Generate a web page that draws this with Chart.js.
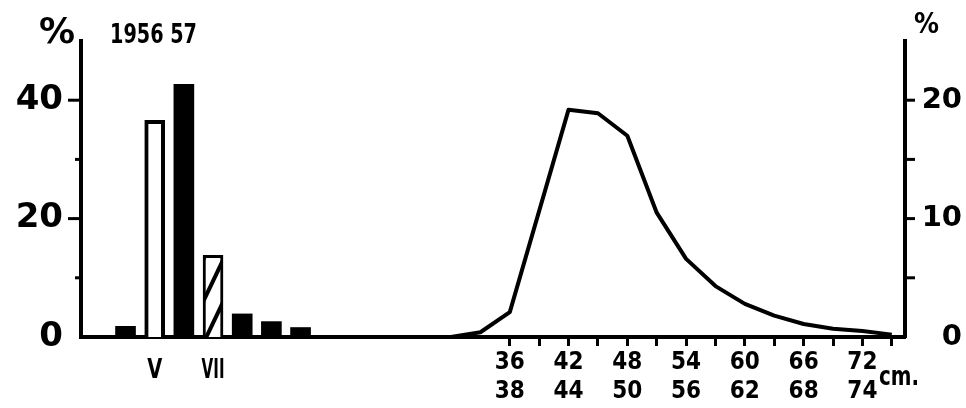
<!DOCTYPE html>
<html><head><meta charset="utf-8">
<script src="https://cdn.jsdelivr.net/npm/chart.js@4"></script>
<style>html,body{margin:0;padding:0;background:#fff}#w{width:966px;height:408px}</style>
</head><body><div id="w"><canvas id="c" width="966" height="408"></canvas></div>
<script>
// ---- data ----
const barLabels = ['', 'V', '', 'VII', '', '', ''];
const barValues = [1.8, 36.6, 42.7, 13.8, 3.9, 2.6, 1.6];
const lengthCm = [30, 33, 36, 42, 45, 48, 51, 54, 57, 60, 63, 66, 69, 72, 75];
const lengthPct = [0, 0.4, 2.1, 19.2, 18.9, 17.0, 10.5, 6.6, 4.3, 2.8, 1.8, 1.1, 0.7, 0.5, 0.2];
const cmTicks = [36, 39, 42, 45, 48, 51, 54, 57, 60, 63, 66, 69, 72, 75];
const cmTopLabels = ['36', '42', '48', '54', '60', '66', '72'];
const cmBottomLabels = ['38', '44', '50', '56', '62', '68', '74'];
const leftTickLabels = ['0', '20', '40'];
const rightTickLabels = ['0', '10', '20'];
const yearLabel = '1956 57';
const unitLabel = 'cm.';
const pctLabel = '%';

// ---- styles ----
function hatch() {
  const W = 20, H = 42;
  const c = document.createElement('canvas'); c.width = W; c.height = H;
  const g = c.getContext('2d');
  g.fillStyle = '#fff'; g.fillRect(0, 0, W, H);
  g.strokeStyle = '#000'; g.lineWidth = 4;
  [-W, 0, W].forEach(o => {
    g.beginPath(); g.moveTo(o - 4, H + 4 * H / W); g.lineTo(o + W + 4, -4 * H / W); g.stroke();
  });
  const p = document.createElement('canvas').getContext('2d').createPattern(c, 'repeat');
  try { p.setTransform(new DOMMatrix().translate(4, 6)); } catch (e) {}
  return p;
}
const barFills = ['#000', '#fff', '#000', hatch(), '#000', '#000', '#000'];
const barBorders = [0, 4, 0, 3, 0, 0, 0];

const axisTicks = {
  id: 'axisTicks',
  afterDraw(chart) {
    const ctx = chart.ctx, y = chart.scales.y, y2 = chart.scales.y2;
    ctx.save(); ctx.strokeStyle = '#000'; ctx.lineWidth = 3;
    y.ticks.forEach(t => {
      if (t.value <= 0 || t.value >= 50) return;
      const py = y.getPixelForValue(t.value), len = t.value % 20 === 0 ? 13 : 6;
      ctx.beginPath(); ctx.moveTo(y.right, py); ctx.lineTo(y.right - len, py); ctx.stroke();
    });
    y2.ticks.forEach(t => {
      if (t.value <= 0 || t.value >= 25) return;
      const py = y2.getPixelForValue(t.value);
      ctx.beginPath(); ctx.moveTo(y2.left, py); ctx.lineTo(y2.left + 10, py); ctx.stroke();
    });
    ctx.restore();
  }
};

function squeezed(ctx, text, cx, y, ratio) {
  const w = ctx.measureText(text).width * ratio;
  ctx.textAlign = 'left';
  ctx.fillText(text, cx - w / 2, y, w);
}

const annot = {
  id: 'annot',
  afterDraw(chart) {
    const ctx = chart.ctx, xb = chart.scales.xb;
    ctx.save(); ctx.fillStyle = '#000'; ctx.textBaseline = 'alphabetic'; ctx.textAlign = 'left';
    ctx.font = 'bold 36px "DejaVu Sans"'; ctx.fillText(pctLabel, 39, 43);
    ctx.font = 'bold 29px "DejaVu Sans"'; ctx.fillText(pctLabel, 914, 33, 25);
    ctx.font = 'bold 27px "DejaVu Sans"'; ctx.fillText(yearLabel, 110, 43, 87);
    ctx.fillText(unitLabel, 879, 385, 40);
    barLabels.forEach((t, i) => {
      if (!t) return;
      squeezed(ctx, t, xb.getPixelForValue(i), 378, t.length > 1 ? 0.56 : 0.72);
    });
    ctx.restore();
  }
};

const tickFont = (size) => ({ family: '"DejaVu Sans"', weight: 'bold', size });

new Chart(document.getElementById('c'), {
  type: 'bar',
  data: {
    datasets: [
      {
        type: 'bar', xAxisID: 'xb', yAxisID: 'y',
        data: barValues.map((v, i) => ({ x: i, y: v })),
        backgroundColor: barFills, borderColor: '#000', borderWidth: barBorders,
        barThickness: 20, grouped: false, borderSkipped: 'start', order: 1
      },
      {
        type: 'line', xAxisID: 'x', yAxisID: 'y2',
        data: lengthCm.map((x, i) => ({ x, y: lengthPct[i] })),
        borderColor: '#000', borderWidth: 4, pointRadius: 0, tension: 0, fill: false,
        borderJoinStyle: 'round', order: 0
      }
    ]
  },
  options: {
    responsive: false, animation: false, devicePixelRatio: 1,
    layout: { padding: { top: 41, right: 4, left: 0, bottom: 0 } },
    plugins: { legend: { display: false }, tooltip: { enabled: false } },
    scales: {
      x: {
        type: 'linear', position: 'bottom', min: -7.78, max: 76.35, offset: false,
        afterBuildTicks: s => { s.ticks = cmTicks.map(v => ({ value: v })); },
        afterFit: s => { s.height = 71; },
        ticks: {
          autoSkip: false, maxRotation: 0, minRotation: 0, padding: 2, color: '#000',
          font: { family: '"DejaVu Sans Condensed", "DejaVu Sans"', weight: 'bold', size: 24, lineHeight: '29px' },
          callback: v => {
            const i = cmTopLabels.indexOf(String(v));
            return i >= 0 ? [cmTopLabels[i], cmBottomLabels[i]] : '';
          }
        },
        grid: { display: true, offset: false, drawOnChartArea: false, drawTicks: true, tickLength: 9, tickWidth: 3, tickColor: '#000' },
        border: { display: true, width: 4, color: '#000' }
      },
      xb: { type: 'linear', display: false, offset: false, grid: { offset: false }, bounds: 'data', min: -1.526, max: 26.72 },
      y: {
        type: 'linear', position: 'left', min: 0, max: 50,
        afterFit: s => { s.width = 81; },
        ticks: {
          stepSize: 10, autoSkip: false, padding: 18, color: '#000', font: tickFont(34),
          callback: v => leftTickLabels.includes(String(v)) ? String(v) : ''
        },
        grid: { display: false, drawTicks: false },
        border: { display: true, width: 4, color: '#000' }
      },
      y2: {
        type: 'linear', position: 'right', min: 0, max: 25,
        afterFit: s => { s.width = 57; },
        ticks: {
          stepSize: 5, autoSkip: false, crossAlign: 'far', padding: 18, color: '#000', font: tickFont(29),
          callback: v => rightTickLabels.includes(String(v)) ? String(v) : ''
        },
        grid: { display: false, drawTicks: false },
        border: { display: true, width: 4, color: '#000' }
      }
    }
  },
  plugins: [axisTicks, annot]
});
</script>
</body></html>
